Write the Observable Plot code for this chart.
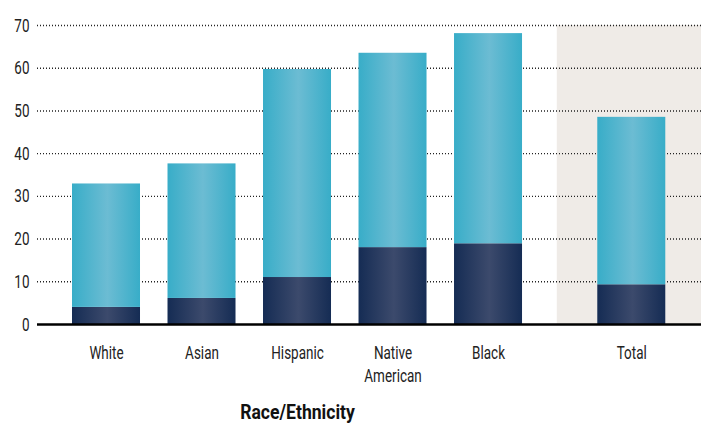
<!DOCTYPE html>
<html>
<head>
<meta charset="utf-8">
<script src="https://cdn.jsdelivr.net/npm/d3@7"></script>
<script src="https://cdn.jsdelivr.net/npm/@observablehq/plot@0.6"></script>
<style>
  body { margin: 0; background: #fff; }
  #chart svg { display: block; }
</style>
</head>
<body>
<div id="chart"></div>
<script>
// ---- data ----
const categories = ["White", "Asian", "Hispanic", "Native American", "Black", "Total"];
const lowerValues = [4.0, 6.1, 11.0, 18.0, 18.9, 9.3];
const totalValues = [32.9, 37.6, 59.7, 63.5, 68.1, 48.5];
const yTicks = [0, 10, 20, 30, 40, 50, 60, 70];
const xTitle = "Race/Ethnicity";

// ---- layout helpers ----
const gapBefore = "Total"; // extra half-slot gap before the Total bar
const rows = categories.map((c, i) => ({
  category: c,
  label: c === "Native American" ? "Native\nAmerican" : c,
  pos: i + (c === gapBefore ? 0.5 : 0),
  lower: lowerValues[i],
  total: totalValues[i]
}));
const half = 0.356;
const totalPos = rows.find(r => r.category === gapBefore).pos;
const groupRows = rows.filter(r => r.category !== gapBefore);
const groupCenter = (groupRows[0].pos + groupRows[groupRows.length - 1].pos) / 2;
const shadeStart = (groupRows[groupRows.length - 1].pos + totalPos) / 2 - 0.03;
const xDomain = [-0.7225, 6.23];

const font = "Roboto, 'Noto Sans', sans-serif";

const chart = Plot.plot({
  width: 701,
  height: 424,
  marginLeft: 37,
  marginRight: 0,
  marginTop: 25,
  marginBottom: 100,
  style: { fontFamily: font, fontSize: "19px", color: "#222", background: "#fff" },
  x: { domain: xDomain, axis: null },
  y: { domain: [0, 70], axis: null },
  marks: [
    Plot.rect([{ a: shadeStart, b: xDomain[1] }], {
      x1: "a", x2: "b", y1: () => 0, y2: () => 70, fill: "#efebe7"
    }),
    Plot.ruleY(yTicks.filter(d => d > 0), {
      stroke: "#222", strokeWidth: 1.4, strokeDasharray: "1,2"
    }),
    Plot.rectY(rows, {
      x1: d => d.pos - half, x2: d => d.pos + half,
      y1: () => 0, y2: "lower", fill: "url(#gDark)"
    }),
    Plot.rectY(rows, {
      x1: d => d.pos - half, x2: d => d.pos + half,
      y1: "lower", y2: "total", fill: "url(#gLight)"
    }),
    Plot.ruleY([0], { stroke: "#000", strokeWidth: 2.5 }),
    Plot.axisY({
      ticks: yTicks, tickSize: 0, tickPadding: 8, label: null,
      fontSize: 19, fill: "#222", className: "narrow"
    }),
    Plot.text(rows, {
      x: "pos", y: () => 0, text: "label", dy: 18, lineAnchor: "top",
      fontSize: 19, lineHeight: 1.21, fill: "#222", className: "narrow"
    }),
    Plot.text([xTitle], {
      x: () => groupCenter, y: () => 0, text: d => d, dy: 80, lineAnchor: "top",
      fontSize: 20, fontWeight: "bold", fill: "#111", className: "narrowBold"
    })
  ]
});

// condense text horizontally around its anchor (narrow typeface look)
function condense(sel, s) {
  chart.querySelectorAll(sel).forEach(t => {
    const tr = t.getAttribute("transform");
    if (tr) {
      t.setAttribute("transform", tr + ` scale(${s},1)`);
    } else {
      const x = +(t.getAttribute("x") || 0);
      t.setAttribute("transform", `translate(${x},0) scale(${s},1) translate(${-x},0)`);
    }
  });
}
condense(".narrow text", 0.71);
condense(".narrowBold text", 0.88);

// gradients for the cylinder-like shading
const ns = "http://www.w3.org/2000/svg";
const defs = document.createElementNS(ns, "defs");
function grad(id, edge, mid) {
  const g = document.createElementNS(ns, "linearGradient");
  g.setAttribute("id", id);
  g.setAttribute("x1", "0"); g.setAttribute("x2", "1");
  g.setAttribute("y1", "0"); g.setAttribute("y2", "0");
  [[0, edge], [0.52, mid], [1, edge]].forEach(([o, c]) => {
    const s = document.createElementNS(ns, "stop");
    s.setAttribute("offset", o);
    s.setAttribute("stop-color", c);
    g.appendChild(s);
  });
  defs.appendChild(g);
}
grad("gLight", "#38adc8", "#6cbcd3");
grad("gDark", "#152c54", "#3c4a6c");
chart.insertBefore(defs, chart.firstChild);

document.getElementById("chart").appendChild(chart);
</script>
</body>
</html>
